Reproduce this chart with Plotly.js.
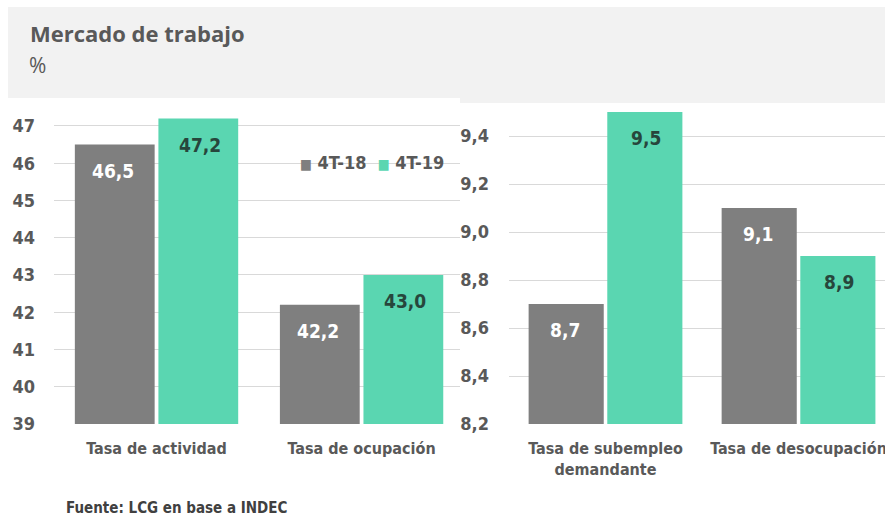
<!DOCTYPE html>
<html>
<head>
<meta charset="utf-8">
<script src="https://cdn.plot.ly/plotly-3.0.1.min.js"></script>
<style>html,body{margin:0;padding:0;background:#fff;}#chart{width:885px;height:518px;}</style>
</head>
<body>
<div id="chart"></div>
<script>
// ---- data ----
const seriesNames = ['4T-18', '4T-19'];
const categoriesLeft = ['Tasa de actividad', 'Tasa de ocupación'];
const left18 = [46.5, 42.2];
const left19 = [47.2, 43.0];
const categoriesRight = ['Tasa de subempleo<br>demandante', 'Tasa de desocupación'];
const right18 = [8.7, 9.1];
const right19 = [9.5, 8.9];
const leftTicks = [39, 40, 41, 42, 43, 44, 45, 46, 47];
const rightTicks = [8.2, 8.4, 8.6, 8.8, 9.0, 9.2, 9.4];

// ---- styles ----
const GRAY = '#7f7f7f';
const TEAL = '#5ad6b1';
const TXT = '#595959';
const COND = '"DejaVu Sans Condensed", "Liberation Sans Narrow", sans-serif';

const traces = [
  {type: 'bar', name: seriesNames[0], x: categoriesLeft, y: left18, xaxis: 'x', yaxis: 'y',
   marker: {color: GRAY}, hoverinfo: 'skip'},
  {type: 'bar', name: seriesNames[1], x: categoriesLeft, y: left19, xaxis: 'x', yaxis: 'y',
   marker: {color: TEAL}, hoverinfo: 'skip'},
  {type: 'bar', name: seriesNames[0], x: categoriesRight, y: right18, xaxis: 'x2', yaxis: 'y2',
   marker: {color: GRAY}, hoverinfo: 'skip'},
  {type: 'bar', name: seriesNames[1], x: categoriesRight, y: right19, xaxis: 'x2', yaxis: 'y2',
   marker: {color: TEAL}, hoverinfo: 'skip'}
];

// value labels placed just below the top of each bar
const fmt = v => v.toFixed(1).replace('.', ',');
const annotations = [];
function addLabels(vals, xref, yref, off, color) {
  vals.forEach((v, i) => {
    annotations.push({xref: xref, yref: yref, x: i + off, y: v, yshift: -26, showarrow: false,
      text: '<b>' + fmt(v) + '</b>', font: {family: COND, size: 19, color: color}});
  });
}
addLabels(left18, 'x', 'y', -0.212, '#ffffff');
addLabels(left19, 'x', 'y', 0.212, '#27463c');
addLabels(right18, 'x2', 'y2', -0.212, '#ffffff');
addLabels(right19, 'x2', 'y2', 0.212, '#27463c');

// legend (compact, as in the reference)
const sq = c => '<span style="color:' + c + ';font-size:14px">■</span> ';
annotations.push({xref: 'paper', yref: 'paper', x: 298/885, y: (518-162)/518, xanchor: 'left', yanchor: 'middle',
  showarrow: false,
  text: '<b>' + sq(GRAY) + seriesNames[0] + '  ' + sq(TEAL) + seriesNames[1] + '</b>',
  font: {family: COND, size: 18, color: TXT}});

annotations.push({xref: 'paper', yref: 'paper', x: 28/885, y: (518-33)/518, xanchor: 'left', yanchor: 'middle',
  showarrow: false, text: '<b>Mercado de trabajo</b>', font: {family: '"Open Sans", sans-serif', size: 22, color: TXT}});
annotations.push({xref: 'paper', yref: 'paper', x: 27/885, y: (518-65)/518, xanchor: 'left', yanchor: 'middle',
  showarrow: false, text: '%', font: {family: '"Open Sans", sans-serif', size: 21, color: TXT}});
annotations.push({xref: 'paper', yref: 'paper', x: 64/885, y: (518-508)/518, xanchor: 'left', yanchor: 'middle',
  showarrow: false, text: '<b>Fuente: LCG en base a INDEC</b>', font: {family: COND, size: 15, color: '#404040'}});

const tickFont = {family: COND, size: 18, color: TXT, weight: 'bold'};
const catFont = {family: COND, size: 16, color: TXT, weight: 'bold'};

const layout = {
  width: 885, height: 518,
  margin: {l: 0, r: 0, t: 0, b: 0},
  paper_bgcolor: '#ffffff', plot_bgcolor: 'rgba(0,0,0,0)',
  separators: ',.',
  barmode: 'group', bargap: 0.185, bargroupgap: 0.045,
  showlegend: false,
  xaxis: {domain: [54/885, 460/885], range: [-0.5, 1.48], type: 'category', anchor: 'y',
    showgrid: false, zeroline: false, showline: false, ticks: '', tickfont: catFont,
    ticklabelstandoff: 13, fixedrange: true},
  yaxis: {domain: [(518-424)/518, (518-114.8)/518], range: [39, 47.3], anchor: 'x',
    tickvals: leftTicks, ticktext: leftTicks.map(String), showgrid: true, gridcolor: '#d9d9d9', gridwidth: 1,
    zeroline: false, showline: false, ticks: '', tickfont: tickFont, ticklabelstandoff: 18, fixedrange: true},
  xaxis2: {domain: [509/885, 1], range: [-0.5, 1.448], type: 'category', anchor: 'y2',
    showgrid: false, zeroline: false, showline: false, ticks: '', tickfont: catFont,
    ticklabelstandoff: 13, fixedrange: true},
  yaxis2: {domain: [(518-424)/518, (518-112)/518], range: [8.2, 9.5], anchor: 'x2',
    tickvals: rightTicks, tickformat: '.1f', showgrid: true, gridcolor: '#d9d9d9', gridwidth: 1,
    zeroline: false, showline: false, ticks: '', tickfont: tickFont, ticklabelstandoff: 19, fixedrange: true},
  shapes: [
    {type: 'rect', xref: 'paper', yref: 'paper', x0: 8/885, x1: 1, y0: (518-98)/518, y1: (518-7)/518,
     fillcolor: '#f2f2f2', line: {width: 0}, layer: 'below'},
    {type: 'rect', xref: 'paper', yref: 'paper', x0: 460/885, x1: 1, y0: (518-103)/518, y1: (518-97)/518,
     fillcolor: '#f2f2f2', line: {width: 0}, layer: 'below'}
  ],
  annotations: annotations
};

Plotly.newPlot('chart', traces, layout, {displayModeBar: false, staticPlot: true});
</script>
</body>
</html>
